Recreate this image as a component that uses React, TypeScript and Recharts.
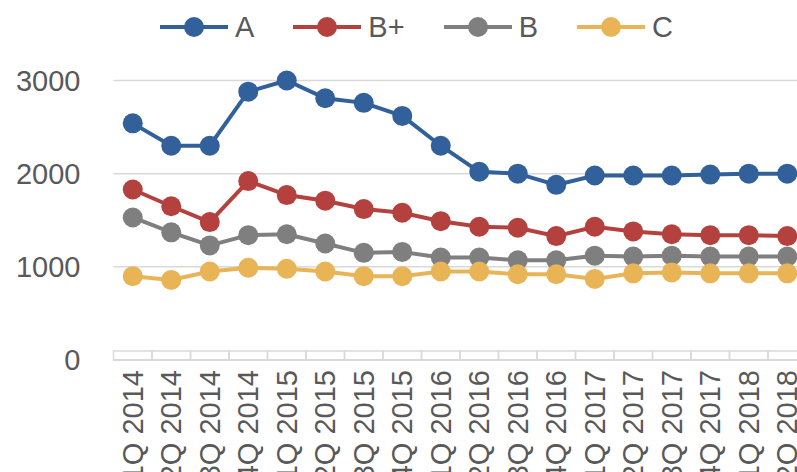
import React from 'react';
import { LineChart, Line, XAxis, YAxis, CartesianGrid, Legend } from 'recharts';

// quarterly values
const quarters = [
  '1Q 2014', '2Q 2014', '3Q 2014', '4Q 2014',
  '1Q 2015', '2Q 2015', '3Q 2015', '4Q 2015',
  '1Q 2016', '2Q 2016', '3Q 2016', '4Q 2016',
  '1Q 2017', '2Q 2017', '3Q 2017', '4Q 2017',
  '1Q 2018', '2Q 2018',
];
const seriesA = [2540, 2300, 2300, 2880, 3000, 2810, 2760, 2620, 2300, 2020, 2000, 1880, 1980, 1980, 1980, 1990, 2000, 2000];
const seriesBPlus = [1830, 1650, 1480, 1920, 1770, 1710, 1620, 1580, 1490, 1430, 1420, 1330, 1430, 1380, 1350, 1340, 1340, 1330];
const seriesB = [1530, 1370, 1230, 1340, 1350, 1250, 1150, 1160, 1100, 1100, 1070, 1070, 1120, 1110, 1120, 1110, 1110, 1110];
const seriesC = [900, 860, 950, 990, 980, 950, 900, 900, 950, 950, 920, 920, 870, 930, 940, 930, 930, 930];
const yTicks = [0, 1000, 2000, 3000];
const legendOrder = ['A', 'B+', 'B', 'C'];

const data = quarters.map((q, i) => ({
  q,
  a: seriesA[i],
  bp: seriesBPlus[i],
  b: seriesB[i],
  c: seriesC[i],
}));

const FONT = '"Liberation Sans", Arial, sans-serif';
const TEXT = '#595959';
const GRID = '#d9d9d9';
const PLOT_W = 693;
const HALF_BAND = PLOT_W / quarters.length / 2;

function QuarterTick(props: any) {
  const { x, y, payload, width, visibleTicksCount } = props;
  const band = (width || PLOT_W) / (visibleTicksCount || quarters.length);
  const ty = y + 10;
  return (
    <g>
      <rect x={x - band / 2} y={y - 9} width={band} height={9} fill="none" stroke={GRID} strokeWidth={1.5} />
      <text
        x={x}
        y={ty}
        dy="0.35em"
        textAnchor="end"
        transform={`rotate(-90 ${x} ${ty})`}
        fontSize={29}
        fontFamily={FONT}
        fill={TEXT}
      >
        {payload.value}
      </text>
    </g>
  );
}

const renderLegend = (props: any) => {
  const items = [...(props.payload || [])].sort(
    (p: any, q: any) => legendOrder.indexOf(p.value) - legendOrder.indexOf(q.value)
  );
  return (
    <div style={{ display: 'flex', alignItems: 'center', gap: 39, height: 34 }}>
      {items.map((entry: any) => (
        <div key={entry.value} style={{ display: 'flex', alignItems: 'center' }}>
          <svg width={68} height={24}>
            <line x1={0} y1={12} x2={68} y2={12} stroke={entry.color} strokeWidth={4} />
            <circle cx={34} cy={12} r={10} fill={entry.color} />
          </svg>
          <span style={{ marginLeft: 7, fontSize: 29, color: TEXT, lineHeight: '34px', fontFamily: FONT }}>
            {entry.value}
          </span>
        </div>
      ))}
    </div>
  );
};

export default function App() {
  return (
    <div style={{ position: 'fixed', left: 0, top: 0, width: 797, height: 472, overflow: 'hidden', background: '#fff' }}>
      <LineChart width={810} height={472} data={data} margin={{ top: 80.5, right: 3.5, bottom: 0, left: 0 }}>
        <CartesianGrid vertical={false} stroke={GRID} strokeWidth={1.5} />
        <XAxis
          dataKey="q"
          interval={0}
          height={112}
          padding={{ left: HALF_BAND, right: HALF_BAND }}
          tickLine={false}
          tickSize={0}
          tickMargin={0}
          axisLine={{ stroke: GRID, strokeWidth: 1.5 }}
          tick={<QuarterTick />}
        />
        <YAxis
          width={113.5}
          domain={[0, 3000]}
          ticks={yTicks}
          axisLine={false}
          tickLine={false}
          tickSize={0}
          tickMargin={33}
          tick={{ fontSize: 29, fill: TEXT, fontFamily: FONT }}
        />
        <Legend
          layout="horizontal"
          align="center"
          verticalAlign="middle"
          content={renderLegend}
          wrapperStyle={{ top: 10, left: 160, width: 'auto' }}
        />
        <Line dataKey="a" name="A" stroke="#31609a" strokeWidth={4} dot={{ r: 10, fill: '#31609a', stroke: 'none' }} isAnimationActive={false} />
        <Line dataKey="bp" name="B+" stroke="#b5413e" strokeWidth={4} dot={{ r: 10, fill: '#b5413e', stroke: 'none' }} isAnimationActive={false} />
        <Line dataKey="b" name="B" stroke="#7f7f7f" strokeWidth={4} dot={{ r: 10, fill: '#7f7f7f', stroke: 'none' }} isAnimationActive={false} />
        <Line dataKey="c" name="C" stroke="#e9b456" strokeWidth={4} dot={{ r: 10, fill: '#e9b456', stroke: 'none' }} isAnimationActive={false} />
      </LineChart>
    </div>
  );
}
